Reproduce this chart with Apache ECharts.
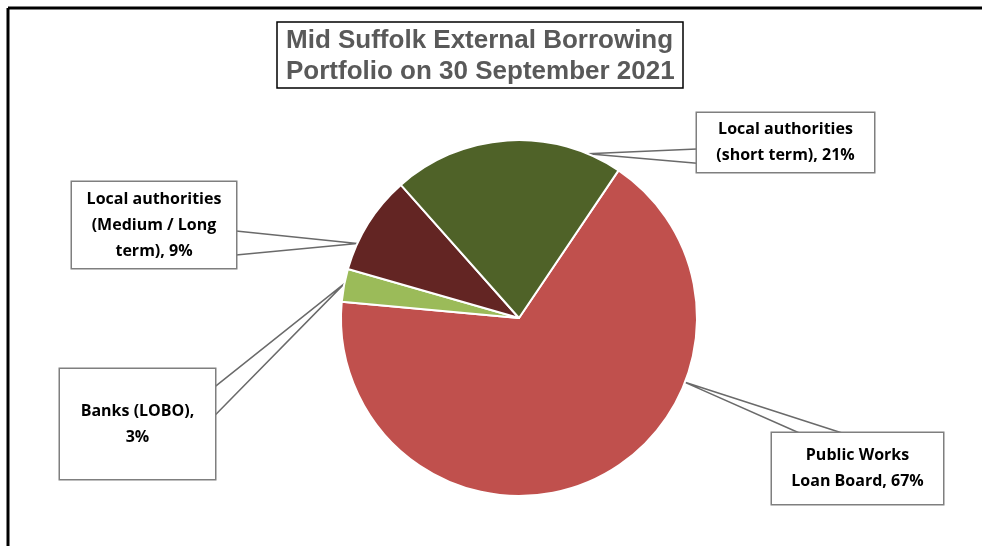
<!DOCTYPE html>
<html>
<head>
<meta charset="utf-8">
<script src="https://cdn.jsdelivr.net/npm/echarts@6/dist/echarts.min.js"></script>
<style>html,body{margin:0;padding:0;background:#fff}#c{width:982px;height:546px}</style>
</head>
<body>
<div id="c"></div>
<script>
const categories = ['Public Works Loan Board', 'Banks (LOBO)', 'Local authorities (Medium / Long term)', 'Local authorities (short term)'];
const labelTexts = ['Public Works\nLoan Board, 67%', 'Banks (LOBO),\n3%', 'Local authorities\n(Medium / Long\nterm), 9%', 'Local authorities\n(short term), 21%'];
const values = [67, 3, 9, 21];
const colors = ['#C0504D', '#9BBB59', '#632523', '#4F6228'];
const titleText = 'Mid Suffolk External Borrowing\nPortfolio on 30 September 2021';

// callout box placement (centre, size), leader base side/fractions, anchor fraction along slice arc
const boxes = [
  {x: 857.5, y: 468.5, w: 171, h: 71, side: 'top', base: [0.16, 0.41], f: 0.32},
  {x: 137.5, y: 424, w: 155, h: 110, side: 'right', base: [0.16, 0.42], f: 0.55},
  {x: 154, y: 225, w: 164, h: 86, side: 'right', base: [0.57, 0.85], f: 0.27},
  {x: 785.5, y: 142.5, w: 177, h: 59, side: 'left', base: [0.61, 0.85], f: 0.85}
];
const LH = 26;

function basePoint(b, t) {
  const l = b.x - b.w / 2, tp = b.y - b.h / 2;
  if (b.side === 'top') return [l + b.w * t, tp];
  if (b.side === 'left') return [l, tp + b.h * t];
  return [l + b.w, tp + b.h * t];
}

const chart = echarts.init(document.getElementById('c'));
chart.setOption({
  animation: false,
  title: {
    text: titleText,
    left: 277, top: 22,
    padding: [3, 9, 1, 9],
    borderColor: '#000', borderWidth: 1.5,
    backgroundColor: '#fff',
    textStyle: {fontFamily: 'Liberation Sans', fontWeight: 'bold', fontSize: 26, color: '#595959', lineHeight: 31, align: 'center'}
  },
  graphic: [
    {type: 'line', shape: {x1: 8, y1: 8, x2: 982, y2: 8}, style: {stroke: '#000', lineWidth: 3}},
    {type: 'line', shape: {x1: 8, y1: 8, x2: 8, y2: 546}, style: {stroke: '#000', lineWidth: 3}}
  ],
  series: [{
    type: 'pie',
    center: [519, 318],
    radius: 178,
    startAngle: 56,
    clockwise: true,
    data: categories.map((c, i) => {
      const n = labelTexts[i].split('\n').length;
      return {
        name: c, value: values[i],
        itemStyle: {color: colors[i]},
        label: {width: boxes[i].w, padding: [(boxes[i].h - n * LH) / 2, 0]}
      };
    }),
    itemStyle: {borderColor: '#fff', borderWidth: 2},
    label: {
      show: true,
      formatter: p => labelTexts[p.dataIndex],
      fontFamily: 'Open Sans', fontWeight: 'bold', fontSize: 16, color: '#000',
      lineHeight: LH, align: 'center',
      backgroundColor: '#fff', borderColor: '#7f7f7f', borderWidth: 1.5
    },
    labelLine: {show: true, length: 20, length2: 20, lineStyle: {color: '#6a6a6a', width: 1.5}},
    labelLayout: p => {
      const i = p.dataIndex, b = boxes[i];
      const out = {x: b.x, y: b.y, align: 'center', verticalAlign: 'middle'};
      try {
        const lay = chart.getModel().getSeriesByIndex(0).getData().getItemLayout(i);
        const a = lay.startAngle + (lay.endAngle - lay.startAngle) * b.f;
        const apex = [lay.cx + lay.r * Math.cos(a), lay.cy + lay.r * Math.sin(a)];
        out.labelLinePoints = [basePoint(b, b.base[0]), apex, basePoint(b, b.base[1])];
      } catch (e) {}
      return out;
    }
  }]
});
</script>
</body>
</html>
